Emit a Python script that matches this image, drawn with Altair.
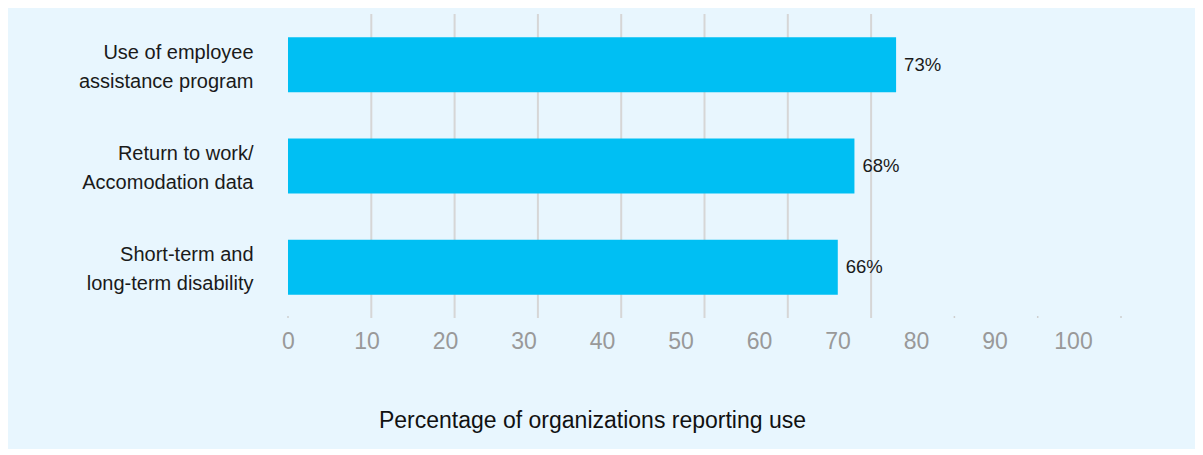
import altair as alt
import pandas as pd

categories = ["Use of employee|assistance program", "Return to work/|Accomodation data", "Short-term and|long-term disability"]
values = [73, 68, 66]
value_labels = ["73%", "68%", "66%"]
grid_values = [10, 20, 30, 40, 50, 60, 70]
stub_values = [0, 80, 90, 100]
tick_values = [0, 10, 20, 30, 40, 50, 60, 70, 80, 90, 100]

bars_df = pd.DataFrame({"cat": categories, "val": values, "lab": value_labels})
grid_df = pd.DataFrame({"v": grid_values})
stub_df = pd.DataFrame({"v": stub_values})
tick_df = pd.DataFrame({"v": tick_values})

W, H = 833, 304
xs = alt.Scale(domain=[0, 100], nice=False, zero=True)
ys = alt.Scale(paddingInner=0.457, paddingOuter=0.2285)

grid = alt.Chart(grid_df).mark_rule(color="#d6d6d6", strokeWidth=2).encode(
    x=alt.X("v:Q", scale=xs, axis=None)
)
stubs = alt.Chart(stub_df).mark_rule(color="#cfcfcf", strokeWidth=1.5).encode(
    x=alt.X("v:Q", scale=xs, axis=None),
    y=alt.value(H - 2), y2=alt.value(H)
)
bars = alt.Chart(bars_df).mark_bar(color="#00BFF3").encode(
    x=alt.X("val:Q", scale=xs, axis=None),
    y=alt.Y("cat:N", sort=categories, scale=ys, title=None,
            axis=alt.Axis(domain=False, ticks=False, grid=False,
                          labelExpr="split(datum.value, '|')",
                          labelFont="Liberation Sans", labelFontSize=20,
                          labelColor="#1a1a1a", labelLineHeight=29,
                          labelPadding=35, labelLimit=400, labelOffset=-12)),
)
texts = alt.Chart(bars_df).mark_text(align="left", baseline="middle", dx=8,
                                     font="Liberation Sans", fontSize=18.5,
                                     color="#1a1a1a").encode(
    x=alt.X("val:Q", scale=xs, axis=None),
    y=alt.Y("cat:N", sort=categories, scale=ys),
    text="lab:N",
)
labels_axis = alt.Chart(tick_df).mark_point(opacity=0).encode(
    x=alt.X("v:Q",
            scale=alt.Scale(domain=[0, 100], nice=False, range=[0, 785]),
            axis=alt.Axis(values=tick_values, format="d", domain=False, ticks=False,
                          grid=False, labelFlush=False,
                          labelFont="Liberation Sans", labelFontSize=23,
                          labelColor="#999999", labelPadding=12,
                          title="Percentage of organizations reporting use",
                          titleFont="Liberation Sans", titleFontSize=23,
                          titleFontWeight="normal", titleColor="#111111",
                          titleX=304, titleY=91, titleAlign="center",
                          titleBaseline="top", titleAnchor="start")),
)

chart = alt.layer(grid, stubs, bars, texts, labels_axis).resolve_scale(
    x="independent"
).properties(
    width=W, height=H,
    background="#E8F6FE",
    padding={"left": 280, "top": 6, "right": 74, "bottom": 131},
    autosize=alt.AutoSizeParams(type="none"),
).configure_view(stroke=None)

chart.save("out.html", embed_options={"renderer": "svg", "actions": False})
